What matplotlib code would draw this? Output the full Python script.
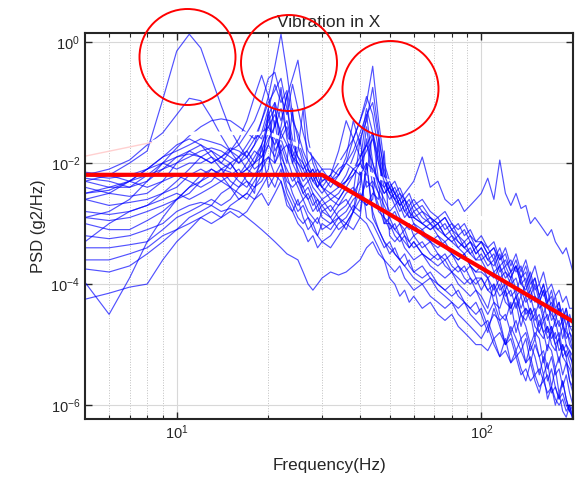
import numpy as np
import matplotlib
matplotlib.use("Agg")
import matplotlib.pyplot as plt
from matplotlib.patches import Ellipse
from matplotlib.ticker import FixedLocator, NullLocator, NullFormatter, LogFormatterSciNotation

plt.rcParams['font.family'] = ['Liberation Sans', 'DejaVu Sans']

# frequency grid (Hz)
freq = [5, 6, 7, 8, 9, 10, 11, 12, 13, 14, 15, 16, 17, 18, 19, 20, 21, 22, 23, 24, 25, 26, 27, 28, 29, 30,
        32, 34, 36, 38, 40, 42, 44, 46, 48, 50, 52, 54, 56, 58,
        60, 64, 68, 72, 76, 80, 84, 88, 92, 96,
        100, 105, 110, 115, 120, 125, 130, 135, 140, 145, 150, 155, 160, 165, 170, 175, 180, 185, 190, 195, 200]

# measured PSD curves, log10(g2/Hz)
c01 = [-2.3, -2.2, -2.0, -1.8, -0.95, -0.15, 0.13, -0.1, -0.6, -1.05, -1.45, -1.7, -1.9, -2.1, -2.0, -1.9, -2.2, -2.0, -2.3, -2.4, -2.3, -2.5, -2.6, -2.5, -2.6, -2.7,
       -2.6, -2.7, -2.5, -2.4, -2.6, -2.3, -2.4, -2.8, -2.9, -3.0, -3.1, -3.0, -3.2, -3.3,
       -3.2, -3.4, -3.3, -3.5, -3.6, -3.5, -3.7, -3.8, -3.7, -3.9,
       -3.9, -4.1, -4.0, -4.2, -4.1, -4.4, -4.2, -4.5, -4.4, -4.6, -4.5, -4.8, -4.6, -4.9, -4.8, -5.0, -4.9, -5.2, -5.1, -5.3, -5.5]
c02 = [-2.2, -2.1, -1.95, -1.7, -1.5, -1.2, -0.93, -0.97, -1.25, -1.55, -1.8, -2.0, -1.9, -1.7, -1.3, -1.0, -0.8, -0.6, -1.1, -1.6, -1.9, -2.1, -2.3, -2.2, -2.4, -2.5,
       -2.3, -2.4, -2.2, -1.9, -1.6, -1.3, -0.75, -1.5, -2.2, -2.5, -2.6, -2.8, -2.7, -2.9,
       -2.9, -3.0, -3.1, -3.0, -3.2, -3.3, -3.2, -3.4, -3.3, -3.5,
       -3.4, -3.6, -3.5, -3.8, -3.7, -3.9, -3.7, -4.0, -3.9, -4.2, -4.0, -4.3, -4.1, -4.4, -4.3, -4.5, -4.4, -4.7, -4.5, -4.8, -4.9]
c03 = [-2.9, -2.8, -2.6, -2.3, -2.0, -1.75, -1.55, -1.4, -1.3, -1.27, -1.3, -1.4, -1.5, -1.6, -1.5, -1.4, -1.6, -1.8, -1.7, -1.9, -2.0, -2.1, -2.0, -2.2, -2.1, -2.3,
       -2.2, -2.0, -1.8, -1.6, -1.3, -1.0, -0.4, -1.3, -2.0, -2.3, -2.5, -2.4, -2.6, -2.7,
       -2.6, -2.8, -2.9, -3.0, -2.9, -3.1, -3.2, -3.1, -3.3, -3.4,
       -3.3, -3.5, -3.4, -3.7, -3.6, -3.8, -3.6, -3.9, -3.8, -4.1, -3.9, -4.2, -4.0, -4.3, -4.2, -4.5, -4.3, -4.6, -4.4, -4.7, -4.8]
c04 = [-2.5, -2.4, -2.4, -2.2, -2.1, -2.0, -1.9, -1.8, -1.75, -1.8, -1.9, -2.0, -1.8, -1.6, -1.3, -0.9, -0.4, 0.13, -0.5, -1.2, -1.6, -1.9, -2.1, -2.3, -2.2, -2.4,
       -2.5, -2.4, -2.3, -2.1, -1.9, -1.7, -1.5, -1.9, -2.3, -2.5, -2.7, -2.6, -2.8, -2.9,
       -2.8, -3.0, -3.1, -3.0, -3.2, -3.3, -3.4, -3.3, -3.5, -3.6,
       -3.5, -3.7, -3.6, -3.9, -3.8, -4.0, -3.9, -4.2, -4.0, -4.3, -4.2, -4.4, -4.3, -4.6, -4.4, -4.7, -4.6, -4.9, -4.7, -5.0, -5.1]
c05 = [-2.6, -2.5, -2.3, -2.2, -2.0, -1.9, -1.8, -1.9, -2.0, -1.9, -1.8, -1.9, -1.7, -1.5, -1.6, -1.2, -1.0, -1.3, -0.9, -0.6, -0.3, -0.9, -1.6, -2.0, -2.2, -2.1,
       -2.3, -2.2, -2.0, -1.8, -1.5, -1.2, -1.0, -1.6, -2.1, -2.4, -2.5, -2.7, -2.6, -2.8,
       -2.7, -2.9, -3.0, -2.9, -3.1, -3.0, -3.2, -3.3, -3.2, -3.4,
       -3.3, -3.5, -3.4, -3.6, -3.5, -3.8, -3.7, -3.9, -3.7, -4.0, -3.9, -4.2, -4.0, -4.3, -4.1, -4.4, -4.3, -4.6, -4.4, -4.7, -4.7]
c06 = [-2.3, -2.4, -2.3, -2.1, -1.9, -1.8, -1.7, -1.6, -1.65, -1.7, -1.8, -1.6, -1.3, -0.9, -0.55, -0.9, -1.4, -1.1, -1.5, -1.9, -1.7, -2.0, -2.2, -2.1, -2.3, -2.4,
       -2.6, -2.5, -2.3, -2.2, -2.0, -1.8, -1.6, -2.0, -2.4, -2.6, -2.5, -2.7, -2.9, -2.8,
       -3.0, -3.1, -3.0, -3.2, -3.3, -3.2, -3.4, -3.5, -3.4, -3.6,
       -3.6, -3.8, -3.9, -3.7, -4.1, -3.9, -4.2, -4.1, -4.3, -4.2, -4.5, -4.3, -4.6, -4.5, -4.8, -4.6, -4.9, -4.7, -5.0, -5.1, -5.2]
c07 = [-2.2, -2.25, -2.2, -2.1, -2.0, -2.1, -2.0, -2.0, -1.9, -2.0, -1.8, -1.7, -1.5, -1.3, -1.0, -0.6, -0.5, -0.9, -1.2, -0.7, -1.1, -1.5, -1.8, -1.9, -2.0, -2.1,
       -2.1, -2.2, -2.0, -2.1, -2.2, -2.0, -2.1, -2.3, -2.4, -2.3, -2.5, -2.6, -2.5, -2.4,
       -2.3, -1.9, -2.4, -2.3, -2.6, -2.7, -2.6, -2.8, -2.7, -2.6,
       -2.5, -2.25, -2.6, -1.95, -2.5, -2.7, -2.5, -2.75, -2.7, -3.0, -2.9, -3.0, -3.1, -3.2, -3.1, -3.3, -3.4, -3.5, -3.4, -3.6, -3.8]
c08 = [-2.6, -2.7, -2.65, -2.6, -2.5, -2.4, -2.2, -2.1, -2.2, -2.3, -2.2, -2.1, -2.3, -2.4, -2.2, -1.1, -1.8, -1.6, -1.9, -2.2, -2.4, -2.6, -2.5, -2.7, -2.6, -2.8,
       -2.7, -2.9, -2.8, -2.6, -2.5, -2.7, -2.6, -1.6, -3.0, -3.0, -3.2, -3.3, -3.2, -3.4,
       -3.3, -3.5, -3.6, -3.5, -3.7, -3.8, -3.7, -3.9, -4.0, -3.9,
       -4.1, -3.9, -4.3, -4.4, -4.1, -4.5, -4.3, -4.7, -4.4, -4.5, -4.9, -4.6, -4.8, -5.1, -4.7, -5.0, -5.3, -5.0, -5.2, -5.6, -5.7]
c09 = [-2.8, -2.85, -2.8, -2.7, -2.5, -2.3, -2.1, -1.9, -1.8, -1.9, -2.0, -2.2, -2.1, -2.0, -1.8, -1.5, -1.7, -1.4, -0.85, -2.0, -2.2, -2.4, -2.3, -2.5, -2.7, -2.6,
       -2.8, -2.6, -2.4, -2.5, -2.3, -1.4, -2.2, -2.5, -2.7, -2.9, -2.8, -3.0, -3.1, -3.0,
       -3.2, -3.1, -3.3, -3.4, -3.3, -3.5, -3.6, -3.5, -3.7, -3.8,
       -3.7, -3.9, -3.8, -4.1, -4.0, -4.2, -4.1, -4.4, -4.2, -4.5, -4.4, -4.7, -4.5, -4.8, -4.7, -4.9, -4.8, -5.1, -5.0, -5.2, -5.3]
c10 = [-3.0, -3.1, -3.1, -2.95, -2.8, -2.6, -2.5, -2.3, -2.2, -2.1, -2.15, -2.3, -2.4, -2.2, -2.1, -1.9, -2.0, -1.7, -2.0, -1.1, -2.3, -2.4, -2.6, -2.8, -2.7, -2.9,
       -3.0, -2.8, -2.7, -2.5, -1.6, -2.4, -2.3, -2.5, -2.9, -3.1, -3.0, -3.2, -3.3, -3.4,
       -3.3, -3.5, -3.6, -3.7, -3.6, -3.8, -3.9, -4.0, -3.9, -4.1,
       -4.2, -4.4, -4.0, -4.5, -4.6, -4.3, -4.8, -4.5, -4.7, -5.0, -4.8, -4.9, -5.3, -5.0, -5.1, -5.4, -5.2, -5.5, -5.3, -5.6, -5.8]
c11 = [-3.2, -3.25, -3.2, -3.1, -3.0, -2.8, -2.7, -2.65, -2.7, -2.5, -2.4, -2.5, -2.6, -2.4, -2.3, -2.1, -1.3, -2.0, -2.4, -2.6, -2.8, -2.7, -2.9, -3.0, -2.9, -3.1,
       -3.0, -2.9, -3.1, -2.8, -2.6, -2.7, -2.5, -2.6, -1.8, -3.2, -3.3, -3.2, -3.4, -3.5,
       -3.6, -3.5, -3.7, -3.8, -3.9, -3.8, -4.0, -4.1, -4.2, -4.1,
       -4.3, -4.5, -4.3, -4.6, -4.5, -4.8, -4.6, -4.9, -4.8, -5.1, -4.9, -5.2, -5.1, -5.4, -5.2, -5.5, -5.4, -5.7, -5.5, -5.8, -6.0]
c12 = [-3.4, -3.4, -3.35, -3.3, -3.1, -2.9, -2.8, -2.7, -2.6, -2.7, -2.6, -2.4, -2.3, -2.5, -1.7, -2.4, -2.2, -2.3, -2.7, -2.8, -2.6, -2.9, -3.1, -3.0, -3.2, -3.3,
       -3.2, -3.0, -2.9, -2.7, -2.8, -2.0, -2.9, -3.1, -3.3, -3.4, -3.5, -3.6, -3.5, -3.7,
       -3.8, -3.7, -3.9, -4.0, -4.1, -4.0, -4.2, -4.3, -4.4, -4.3,
       -4.5, -4.8, -4.4, -4.7, -5.0, -4.8, -5.1, -4.9, -5.3, -5.0, -5.2, -5.5, -5.2, -5.6, -5.4, -5.7, -5.9, -5.6, -5.9, -6.1, -6.2]
c13 = [-4.25, -4.15, -4.05, -4.0, -3.6, -3.3, -3.1, -2.9, -2.8, -2.9, -2.7, -2.6, -2.5, -2.6, -2.4, -2.2, -2.4, -2.1, -2.5, -2.7, -2.9, -3.0, -2.9, -3.1, -3.2, -3.0,
       -3.1, -2.9, -3.0, -2.8, -2.1, -2.9, -3.0, -3.2, -3.4, -3.3, -3.5, -3.6, -3.7, -3.6,
       -3.8, -3.9, -3.8, -4.0, -4.1, -4.2, -4.1, -4.3, -4.4, -4.5,
       -4.4, -4.7, -4.5, -4.6, -5.0, -4.7, -4.9, -5.1, -4.9, -5.3, -5.0, -5.2, -5.5, -5.3, -5.7, -5.4, -5.8, -5.6, -5.9, -6.1, -6.0]
c14 = [-3.97, -4.5, -3.9, -3.3, -2.9, -2.6, -2.4, -2.3, -2.1, -2.2, -2.0, -1.9, -2.1, -2.2, -2.0, -1.7, -1.0, -1.9, -2.1, -2.3, -2.2, -2.5, -2.4, -2.6, -2.8, -2.7,
       -2.9, -2.7, -2.6, -2.8, -2.4, -1.6, -2.4, -2.7, -3.0, -2.9, -3.1, -3.2, -3.1, -3.3,
       -3.4, -3.3, -3.5, -3.6, -3.5, -3.7, -3.8, -3.7, -3.9, -4.0,
       -3.9, -4.1, -4.2, -4.0, -4.3, -4.4, -4.2, -4.5, -4.6, -4.4, -4.7, -4.8, -4.9, -4.7, -5.0, -5.1, -4.9, -5.2, -5.3, -5.4, -5.6]
c15 = [-3.6, -3.6, -3.5, -3.4, -3.2, -3.1, -2.9, -2.8, -2.7, -2.8, -2.75, -2.8, -2.9, -3.0, -3.1, -3.2, -3.3, -3.4, -3.5, -3.55, -3.6, -3.8, -4.0, -4.1, -4.0, -3.9,
       -3.8, -3.85, -3.8, -3.7, -3.6, -3.4, -3.3, -3.5, -3.6, -3.9, -4.0, -4.2, -4.1, -4.3,
       -4.2, -4.4, -4.3, -4.5, -4.6, -4.5, -4.7, -4.8, -4.9, -5.0,
       -5.0, -5.1, -4.9, -5.2, -5.1, -5.3, -5.2, -5.5, -5.4, -5.6, -5.5, -5.7, -5.6, -5.8, -5.7, -5.9, -6.0, -5.9, -6.1, -6.0, -6.2]
c16 = [-2.15, -2.2, -2.3, -2.4, -2.3, -2.2, -2.3, -2.4, -2.3, -2.1, -2.0, -2.2, -2.1, -1.9, -1.7, -1.3, -1.1, -1.6, -1.4, -1.8, -2.0, -2.2, -2.1, -2.3, -2.4, -2.2,
       -2.4, -2.2, -1.9, -1.3, -1.7, -1.1, -1.5, -2.0, -2.3, -2.5, -2.4, -2.6, -2.8, -2.7,
       -2.9, -2.8, -3.0, -3.1, -3.0, -3.2, -3.3, -3.4, -3.3, -3.5,
       -3.4, -3.6, -3.7, -3.5, -3.8, -3.9, -3.7, -4.0, -4.1, -3.9, -4.2, -4.3, -4.1, -4.4, -4.5, -4.6, -4.4, -4.7, -4.8, -4.9, -5.1]
c17 = [-2.4, -2.5, -2.55, -2.5, -2.3, -2.0, -1.8, -1.7, -1.9, -2.1, -2.3, -2.4, -2.2, -2.0, -1.9, -1.6, -1.4, -0.75, -1.6, -1.9, -2.1, -2.3, -2.2, -2.4, -2.5, -2.6,
       -2.5, -2.6, -2.4, -2.2, -2.0, -1.2, -2.0, -2.4, -2.6, -2.8, -2.7, -2.9, -3.0, -3.1,
       -3.0, -3.2, -3.3, -3.2, -3.4, -3.5, -3.6, -3.5, -3.7, -3.8,
       -3.8, -3.9, -4.1, -3.9, -4.2, -4.1, -4.4, -4.2, -4.5, -4.4, -4.6, -4.5, -4.8, -4.7, -4.9, -4.8, -5.1, -5.0, -5.2, -5.1, -5.4]
c18 = [-3.3, -3.0, -2.8, -2.7, -2.6, -2.5, -2.6, -2.5, -2.4, -2.3, -2.4, -2.2, -2.0, -1.8, -1.9, -1.7, -1.9, -1.5, -1.7, -2.0, -1.8, -1.1, -2.1, -2.2, -2.4, -2.3,
       -2.2, -2.4, -2.3, -2.1, -2.0, -2.2, -1.5, -2.3, -2.5, -2.4, -2.6, -2.5, -2.7, -2.6,
       -2.8, -2.7, -2.9, -3.0, -2.9, -3.1, -3.0, -3.2, -3.1, -3.3,
       -3.2, -3.4, -3.3, -3.6, -3.4, -3.7, -3.5, -3.8, -3.6, -3.9, -3.7, -4.0, -3.8, -4.1, -4.0, -4.2, -4.1, -4.3, -4.2, -4.4, -4.4]
c19 = [-2.25, -2.3, -2.4, -2.3, -2.1, -1.9, -1.85, -1.9, -2.0, -1.9, -1.75, -1.8, -1.9, -1.7, -1.5, -1.1, -0.7, -1.0, -0.8, -1.3, -1.5, -1.8, -2.0, -1.9, -2.1, -2.2,
       -2.3, -2.1, -2.0, -1.6, -1.3, -0.9, -1.2, -1.8, -2.2, -2.4, -2.3, -2.5, -2.6, -2.5,
       -2.7, -2.6, -2.8, -2.9, -2.8, -3.0, -3.1, -3.0, -3.2, -3.3,
       -3.3, -3.4, -3.6, -3.4, -3.7, -3.6, -3.8, -3.7, -4.0, -3.8, -4.1, -4.0, -4.2, -4.1, -4.4, -4.2, -4.5, -4.4, -4.7, -4.5, -4.7]
c20 = [-3.75, -3.8, -3.7, -3.5, -3.3, -3.1, -3.0, -2.9, -3.0, -2.9, -2.8, -2.9, -2.8, -2.6, -2.5, -2.7, -2.5, -2.3, -2.6, -2.8, -3.0, -3.1, -3.3, -3.2, -3.4, -3.3,
       -3.4, -3.2, -3.0, -3.1, -2.9, -3.0, -3.2, -3.4, -3.6, -3.7, -3.8, -3.7, -3.9, -4.0,
       -4.1, -4.0, -4.2, -4.3, -4.4, -4.3, -4.5, -4.6, -4.7, -4.8,
       -4.9, -4.7, -5.0, -5.2, -4.9, -5.3, -5.1, -5.4, -5.6, -5.3, -5.6, -5.8, -5.5, -5.9, -5.7, -6.0, -5.8, -6.1, -6.2, -6.0, -6.3]
c21 = [-2.5, -2.45, -2.3, -2.1, -1.9, -1.7, -1.6, -1.7, -1.8, -2.0, -2.1, -1.9, -1.8, -2.0, -1.7, -1.4, -1.2, -1.5, -1.3, -1.7, -1.9, -2.0, -2.2, -2.1, -2.3, -2.4,
       -2.2, -1.8, -1.3, -1.6, -1.9, -1.7, -2.0, -2.3, -2.5, -2.4, -2.6, -2.7, -2.6, -2.8,
       -2.9, -3.0, -2.9, -3.1, -3.2, -3.1, -3.3, -3.4, -3.5, -3.4,
       -3.6, -3.5, -3.8, -3.7, -3.9, -3.8, -4.1, -3.9, -4.2, -4.1, -4.3, -4.2, -4.5, -4.3, -4.6, -4.5, -4.7, -4.6, -4.9, -4.8, -5.0]
c22 = [-2.9, -2.95, -2.9, -2.8, -2.7, -2.6, -2.4, -2.2, -2.1, -2.2, -2.4, -2.6, -2.5, -2.3, -2.1, -1.2, -2.0, -1.8, -2.2, -2.5, -2.7, -2.6, -2.8, -2.9, -3.0, -2.8,
       -2.9, -3.1, -3.0, -2.8, -2.9, -2.0, -2.8, -3.1, -3.3, -3.5, -3.4, -3.6, -3.7, -3.8,
       -3.9, -4.0, -3.9, -4.1, -4.2, -4.3, -4.4, -4.3, -4.5, -4.6,
       -4.7, -4.6, -4.9, -4.8, -5.0, -4.9, -5.2, -5.1, -5.3, -5.2, -5.5, -5.4, -5.6, -5.5, -5.8, -5.7, -5.9, -5.8, -6.0, -6.1, -6.2]

curves_below = [c01, c02, c03, c04, c05, c06, c08, c09, c10, c11, c12, c13, c14]
curves_above = [c07, c15, c16, c17, c18, c19, c20, c21, c22]

# specification profile (red) and upper tolerance (white)
spec_freq = [5, 30, 200]
spec_psd = [6.4e-3, 6.4e-3, 2.4e-5]
upper_freq = [5, 8.3, 10, 20, 200]
upper_psd = [0.013, 0.022, 0.031, 0.031, 3.1e-4]

title = "Vibration in X"
xlabel = "Frequency(Hz)"
ylabel = "PSD (g2/Hz)"

fig = plt.figure(figsize=(5.86, 4.83), dpi=100)
ax = fig.add_axes([85/586, 1-419/483, (573-85)/586, (419-33)/483])
ax.set_xscale('log')
ax.set_yscale('log')
ax.set_xlim(5, 200)
ax.set_ylim(5.9e-7, 1.41)

f = np.array(freq, dtype=float)
for c in curves_below:
    ax.plot(f, 10.0**np.array(c), color='#0000ff', lw=0.85, alpha=0.68, zorder=2)

ax.plot(upper_freq, upper_psd, color='#ffd0d0', lw=1.0, zorder=2.4)
ax.plot(upper_freq[1:], upper_psd[1:], color='white', lw=2.6, zorder=2.5, solid_capstyle='butt')

for c in curves_above:
    ax.plot(f, 10.0**np.array(c), color='#0000ff', lw=0.85, alpha=0.68, zorder=3)

ax.plot(spec_freq, spec_psd, color='#ff0000', lw=3.0, zorder=4, solid_capstyle='butt')

# axes styling (MATLAB look)
ax.xaxis.set_major_locator(FixedLocator([10, 100]))
ax.xaxis.set_minor_locator(FixedLocator([6, 7, 8, 9, 20, 30, 40, 50, 60, 70, 80, 90, 200]))
ax.xaxis.set_major_formatter(LogFormatterSciNotation())
ax.xaxis.set_minor_formatter(NullFormatter())
ax.yaxis.set_major_locator(FixedLocator([1e-6, 1e-4, 1e-2, 1e0]))
ax.yaxis.set_major_formatter(LogFormatterSciNotation())
ax.yaxis.set_minor_locator(NullLocator())

ax.set_axisbelow(True)
ax.grid(which='major', color='#d8d8d8', lw=0.8, ls='-')
ax.grid(which='minor', axis='x', color='#c0c0c0', lw=0.7, ls=':')
ax.tick_params(which='both', direction='in', top=True, right=True, colors='#262626', labelsize=10.5)
ax.tick_params(which='major', length=5, width=1.0)
ax.tick_params(which='minor', length=3, width=0.8)
for s in ax.spines.values():
    s.set_linewidth(1.5)
    s.set_color('#262626')
    s.set_zorder(5)

ax.set_title(title, fontsize=12.5, color='#262626', pad=4)
ax.set_xlabel(xlabel, fontsize=12.3, color='#262626', labelpad=11)
ax.set_ylabel(ylabel, fontsize=12, color='#262626', labelpad=3)

# highlight circles (figure pixel coordinates)
for cx, cy in [(187.5, 57), (289, 63), (390.5, 89)]:
    e = Ellipse((cx/586, 1-cy/483), 96/586, 96/483, transform=fig.transFigure,
                fill=False, edgecolor='#ff0000', lw=1.4, zorder=10)
    fig.patches.append(e)

fig.savefig('out.png', dpi=100)
